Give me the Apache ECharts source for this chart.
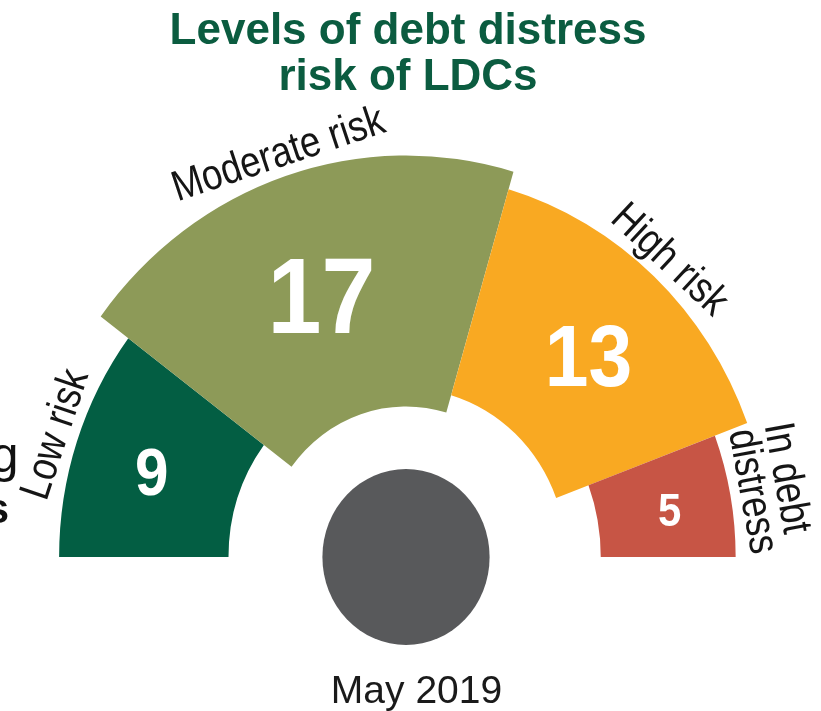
<!DOCTYPE html>
<html>
<head>
<meta charset="utf-8">
<script src="https://cdn.jsdelivr.net/npm/echarts@6/dist/echarts.min.js"></script>
<style>
  html, body { margin: 0; padding: 0; background: #ffffff; }
  #chart { width: 821px; height: 711px; }
</style>
</head>
<body>
<div id="chart"></div>
<script>
// Debt distress risk ratings of the least developed countries
const categories = ['Low risk', 'Moderate risk', 'High risk', 'In debt\ndistress'];
const counts = [9, 17, 13, 5];
const colors = ['#035E43', '#8D9A58', '#F9A922', '#C75545'];
const titleLines = ['Levels of debt distress', 'risk of LDCs'];
const dateLabel = 'May 2019';

const total = counts.reduce((a, b) => a + b, 0);
const starts = [];
counts.reduce((acc, v) => { starts.push(acc); return acc + v; }, 0);

// dial geometry (radius-axis units are pixels)
const CX = 406, CY = 557;
const SX = 0.95;                    // horizontal squeeze of the dial
const MID = 276;                    // centre line of every band
const HALF0 = 48.3, HALF_K = 4.54;  // half band width = HALF0 + HALF_K * count
const VALUE_R = 282;
const NAME_GAP = 4;
const NAME_FONT = 43, NAME_SX = 0.85, NAME_LH = 36;
const FONT = '"Liberation Sans", Arial, Helvetica, sans-serif';
const GLYPH_DROP = 0.13;            // canvas 'middle' sits above the cap centre

const measureCtx = document.createElement('canvas').getContext('2d');
function blockWidth(text, font) {
  measureCtx.font = font;
  return Math.max(...text.split('\n').map(t => measureCtx.measureText(t).width));
}

function renderSegment(params, api) {
  const start = api.value(0);
  const v = api.value(1);
  const i = params.dataIndex;
  const cs = params.coordSys;
  const cx = cs.cx, cy = cs.cy;
  const half = HALF0 + HALF_K * v;

  const pt = (r, a) => api.coord([r, a]);
  const dist = p => Math.hypot(p[0] - cx, p[1] - cy);
  const ang = p => Math.atan2(p[1] - cy, p[0] - cx);
  const squeeze = p => [cx + (p[0] - cx) * SX, p[1]];

  const pIn = pt(MID - half, start);
  const pOut = pt(MID + half, start + v);
  const r0 = dist(pIn), r = dist(pOut);
  const a0 = ang(pIn);
  let a1 = ang(pOut);
  while (a1 <= a0) a1 += Math.PI * 2;

  const mid = start + v / 2;
  const am = ang(pt(MID, mid));
  const vp = squeeze(pt(VALUE_R, mid));
  const np = squeeze(pt(MID + half + NAME_GAP, mid));
  // names run along the tangent, reading clockwise
  const rot = -Math.atan2(Math.cos(am), -Math.sin(am));

  const nameFont = NAME_FONT + 'px ' + FONT;
  const w = blockWidth(categories[i], nameFont);
  const valueSize = 21 + 5.1 * v;

  return {
    type: 'group',
    children: [
      {
        type: 'group',
        x: cx * (1 - SX),
        scaleX: SX,
        children: [{
          type: 'sector',
          shape: { cx: cx, cy: cy, r0: r0, r: r, startAngle: a0, endAngle: a1, clockwise: true },
          style: { fill: colors[i] }
        }]
      },
      {
        type: 'text',
        x: vp[0], y: vp[1] + GLYPH_DROP * valueSize,
        scaleX: 0.9,
        style: {
          text: String(v),
          fill: '#ffffff',
          font: 'bold ' + valueSize.toFixed(1) + 'px ' + FONT,
          align: 'center',
          verticalAlign: 'middle'
        }
      },
      {
        type: 'text',
        x: np[0], y: np[1],
        rotation: rot,
        scaleX: NAME_SX,
        style: {
          text: categories[i],
          x: -w / 2, y: 0,
          fill: '#151515',
          font: nameFont,
          lineHeight: NAME_LH,
          align: 'left',
          verticalAlign: 'bottom'
        }
      }
    ]
  };
}

const chart = echarts.init(document.getElementById('chart'), null, { renderer: 'canvas' });
chart.setOption({
  animation: false,
  backgroundColor: '#ffffff',
  polar: { center: [CX, CY], radius: 400 },
  angleAxis: {
    type: 'value', min: 0, max: total * 2, startAngle: 180, clockwise: true, show: false,
    axisLine: { show: false }, axisTick: { show: false }, axisLabel: { show: false }, splitLine: { show: false }
  },
  radiusAxis: {
    type: 'value', min: 0, max: 400, show: false,
    axisLine: { show: false }, axisTick: { show: false }, axisLabel: { show: false }, splitLine: { show: false }
  },
  series: [{
    type: 'custom',
    coordinateSystem: 'polar',
    clip: false,
    silent: true,
    renderItem: renderSegment,
    data: counts.map((v, i) => [starts[i], v])
  }],
  graphic: [
    {
      type: 'circle', x: CX, y: CY, scaleX: SX,
      shape: { cx: 0, cy: 0, r: 88 },
      style: { fill: '#58595B' }
    },
    {
      type: 'text', x: 408, y: 32,
      style: { text: titleLines[0], font: 'bold 44px ' + FONT, fill: '#0B5C40', align: 'center', verticalAlign: 'middle' }
    },
    {
      type: 'text', x: 408, y: 77.5,
      style: { text: titleLines[1], font: 'bold 44px ' + FONT, fill: '#0B5C40', align: 'center', verticalAlign: 'middle' }
    },
    {
      type: 'text', x: 416.5, y: 692.5,
      style: { text: dateLabel, font: '39px ' + FONT, fill: '#1a1a1a', align: 'center', verticalAlign: 'middle' }
    },
    {
      type: 'text', x: 18.5, y: 458,
      style: { text: 'g', font: '50px ' + FONT, fill: '#111111', align: 'right', verticalAlign: 'middle' }
    },
    {
      type: 'text', x: 9, y: 511,
      style: { text: 's', font: 'bold 42px ' + FONT, fill: '#111111', align: 'right', verticalAlign: 'middle' }
    }
  ]
});
</script>
</body>
</html>
